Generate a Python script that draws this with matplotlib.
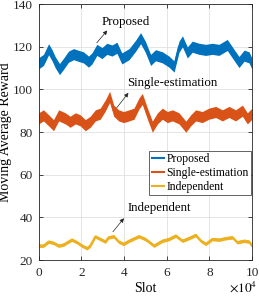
import numpy as np
import matplotlib
matplotlib.use("Agg")
import matplotlib.pyplot as plt
from matplotlib.ticker import FuncFormatter

plt.rcParams["font.family"] = ["Liberation Serif", "DejaVu Serif"]
plt.rcParams["mathtext.fontset"] = "stix"

# moving average reward (slot, value)
proposed_slot = [0, 2300, 4700, 6300, 7800, 9800, 11700, 14000, 16400, 18700, 21000,
                 23400, 25000, 27300, 29700, 32000, 34400, 36700, 39000, 42400, 45500,
                 47800, 50000, 52500, 54800, 58000, 61100, 63500, 65800, 67400, 69700,
                 72000, 75200, 78300, 81400, 84500, 88400, 90800, 93900, 96300, 98600, 100000]
proposed = [112.2, 113.8, 118.8, 116.0, 112.7, 109.5, 112.0, 115.3, 116.5, 115.7, 115.0,
            113.0, 114.5, 118.5, 117.0, 119.0, 118.2, 119.5, 114.5, 116.5, 120.5,
            124.0, 120.0, 113.8, 116.0, 115.0, 113.0, 110.7, 120.0, 122.5, 117.3,
            120.0, 119.0, 118.5, 119.0, 118.5, 120.8, 117.3, 112.8, 115.8, 115.0, 112.0]

single_slot = [0, 2300, 4700, 7000, 9400, 12500, 14800, 17200, 19500, 21900, 24200,
               26600, 28900, 31300, 33300, 35200, 37500, 39800, 42400, 44700, 47000,
               48600, 51000, 53300, 55700, 58000, 60300, 62700, 65800, 69000, 71300,
               73600, 76700, 79800, 83000, 86100, 89200, 92300, 95500, 97800, 100000]
single = [86.4, 87.8, 85.5, 83.2, 87.8, 86.4, 84.8, 86.4, 85.5, 83.2, 84.8,
          87.8, 88.6, 92.5, 96.5, 90.0, 87.8, 87.0, 87.8, 88.6, 93.3,
          95.5, 88.6, 82.5, 86.4, 88.6, 87.0, 87.8, 86.4, 82.5, 85.5,
          87.8, 87.0, 88.6, 89.4, 87.8, 89.4, 87.8, 90.0, 86.4, 88.6]

indep_slot = [0, 2300, 4700, 7000, 9400, 11700, 14000, 15600, 18000, 20300, 22700,
              24200, 26600, 28900, 31300, 32800, 35200, 37500, 39800, 42400, 47000,
              50000, 54100, 58000, 61100, 64200, 67400, 71300, 73600, 76000, 78300,
              81400, 84500, 87700, 90800, 93100, 96300, 98600, 100000]
indep = [26.7, 26.7, 28.6, 28.0, 26.7, 27.2, 28.6, 29.5, 28.3, 26.7, 25.5,
         26.7, 31.0, 29.8, 28.6, 30.6, 31.1, 28.6, 27.5, 29.0, 31.1,
         29.8, 26.7, 29.0, 29.8, 31.4, 29.0, 30.6, 31.7, 29.0, 27.5,
         29.8, 29.5, 30.2, 30.6, 28.3, 29.0, 28.6, 26.7]

labels = ["Proposed", "Single-estimation", "Independent"]
colors = ["#0072BD", "#D95319", "#EDB120"]
band = [2.6, 2.6, 0.8]

fig = plt.figure(figsize=(2.59, 2.98), dpi=100)
ax = fig.add_axes([0.149, 0.1275, 0.824, 0.859])

series = [(proposed_slot, proposed), (single_slot, single), (indep_slot, indep)]
for (xs, ys), lab, c, hw in zip(series, labels, colors, band):
    xs = np.array(xs)
    ys = np.array(ys)
    ax.fill_between(xs, ys - hw, ys + hw, color=c, lw=0, zorder=2)
    ax.plot(xs, ys, color=c, lw=1.5, label=lab, zorder=2)

ax.set_xlim(0, 100000)
ax.set_ylim(20, 140)
ax.set_xticks(np.arange(0, 100001, 20000))
ax.set_yticks(np.arange(20, 141, 20))
ax.xaxis.set_major_formatter(FuncFormatter(lambda v, p: f"{v/1e4:g}"))
ax.tick_params(direction="in", top=True, right=True, labelsize=9.5,
               length=3, width=0.6, colors="0.15")
ax.tick_params(axis="x", pad=5)
ax.tick_params(axis="y", pad=4)
for s in ax.spines.values():
    s.set_color("0.15")
    s.set_linewidth(0.6)
ax.grid(True, color="0.88", lw=0.6, zorder=0)
ax.set_axisbelow(True)

ax.set_xlabel("Slot", fontsize=10, labelpad=2)
ax.set_ylabel("Moving Average Reward", fontsize=10, labelpad=1)
fig.text(257 / 259, 11 / 298, r"$\times 10^{4}$", ha="right", va="center",
         fontsize=9.5)

arrow = dict(arrowstyle="-|>", color="0.15", lw=0.5, mutation_scale=6)
ax.annotate("Proposed", xy=(33000, 128.6), xytext=(41000, 131.6),
            ha="center", va="center", fontsize=9.3)
ax.annotate("", xy=(33000, 128.6), xytext=(26400, 120.8), arrowprops=arrow)
ax.annotate("Single-estimation", xy=(42900, 99.4), xytext=(62800, 102.8),
            ha="center", va="center", fontsize=9.3)
ax.annotate("", xy=(42900, 99.4), xytext=(35800, 90.3), arrowprops=arrow)
ax.annotate("Independent", xy=(40800, 40.6), xytext=(56500, 44.2),
            ha="center", va="center", fontsize=9.3)
ax.annotate("", xy=(40800, 40.6), xytext=(34000, 32.2), arrowprops=arrow)

leg = ax.legend(loc="upper right", bbox_to_anchor=(0.995, 0.426), fontsize=8.4,
                handlelength=1.1, handletextpad=0.15, labelspacing=0.15,
                borderpad=0.2, borderaxespad=0, fancybox=False, framealpha=1)
leg.get_frame().set_edgecolor("0.15")
leg.get_frame().set_linewidth(0.5)

fig.savefig("out.png", dpi=100)
